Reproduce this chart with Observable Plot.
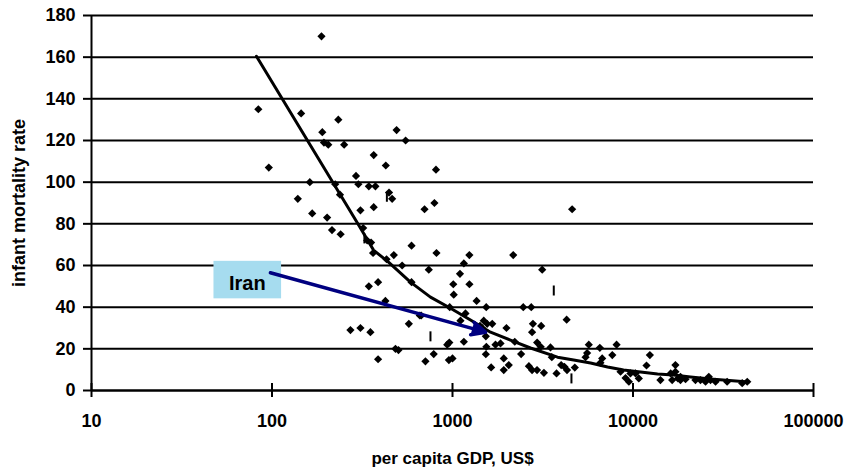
<!DOCTYPE html>
<html>
<head>
<meta charset="utf-8">
<script src="https://cdn.jsdelivr.net/npm/d3@7"></script>
<script src="https://cdn.jsdelivr.net/npm/@observablehq/plot@0.6"></script>
<style>
  body { margin: 0; background: #fff; }
</style>
</head>
<body>
<div id="chart"></div>
<script>
// Per capita GDP (US$) and infant mortality rate, one entry per country
const gdp = [
  188, 84, 145, 233, 190, 194, 205, 251, 490, 550,
  366, 427, 96, 810, 292, 162, 224, 301, 344, 374,
  445, 463, 238, 139, 309, 366, 700, 794, 4600, 167,
  202, 215, 240, 320, 337, 354, 363, 473, 431, 526,
  593, 815, 739, 593, 344, 387, 425, 659, 965, 1180,
  1010, 1100, 1156, 1240, 1016, 1241, 1360, 272, 309, 351,
  573, 935, 960, 1156, 483, 502, 387, 787, 708, 955,
  1000, 2170, 1107, 1538, 2466, 2731, 671, 1490, 1556, 1660,
  1420, 1460, 1990, 2790, 2760, 1530, 1540, 1730, 1845, 2213,
  1530, 2400, 1923, 2050, 1637, 1923, 2650, 2760, 2940, 2944,
  3140, 4290, 3100, 3080, 3490, 3550, 3210, 3770, 4000, 4170,
  4310, 4760, 5690, 5570, 5460, 6550, 6750, 6600, 8110, 7680,
  8530, 9090, 9490, 9680, 10330, 10770, 12400, 11880, 14190, 17180,
  17180, 16480, 18320, 19540, 16170, 17740, 18320, 22180, 23650, 25220,
  26300, 26880, 28660, 33220, 40270, 42950
];
const imr = [
  170, 135, 133, 130, 124, 119, 118, 118, 125, 120,
  113, 108, 107, 106, 103, 100, 99, 99, 98, 98,
  95, 92, 94, 92, 86.5, 88, 87, 90, 87, 85,
  83, 77, 75, 78, 72, 71, 66, 65, 63, 60,
  69.5, 66, 58, 52, 50, 52, 43, 36, 40, 37,
  51, 56, 61, 65, 46, 51, 43, 29, 30, 28,
  32, 22, 23, 23.4, 20, 19.4, 15, 17.5, 14, 14.6,
  15.4, 65, 33.5, 40, 40, 40, 36, 33.5, 32, 32,
  31, 30, 30, 32, 28, 26, 21, 22, 22.6, 23.4,
  17.4, 17.5, 15.4, 12.2, 11.1, 9.8, 11.7, 9.8, 9.8, 23,
  58, 34, 31, 21, 20.7, 16, 8.5, 8.2, 12.2, 11.4,
  9.8, 11, 22, 18, 16, 20.5, 15.4, 13.3, 22, 17,
  9, 6, 4.2, 8.2, 8.2, 5.8, 17, 12, 5, 12.2,
  9, 5, 5, 5.4, 8.2, 5.8, 6.6, 5, 5, 4.2,
  6.6, 5, 4.2, 4.2, 3.5, 4.2
];

// Entries drawn with a bar marker instead of a diamond
const barGdp = [433, 325, 755, 3640, 4560];
const barImr = [93, 73, 26, 48, 5.8];

// Fitted trend
const trendGdp = [82, 240, 298, 365, 442, 585, 755, 975, 1258, 1624, 2094, 2704, 3818, 4690, 5820, 7230, 8860, 11010, 13680, 16760, 20840, 26880, 43650];
const trendImr = [160.4, 93.7, 80.3, 67.4, 61.6, 52, 44.8, 39.5, 33.8, 28, 24.2, 20.4, 16, 14.6, 13.2, 11.3, 9.8, 8.9, 7.9, 7.4, 6.5, 5.5, 4.1];

// Iran callout
const calloutText = ["Iran"];
const calloutBoxGdp = [47.7, 113];
const calloutBoxImr = [44, 62];
const calloutTextAt = [73, 51.5];
const arrowFrom = [98, 56.5];
const arrowTo = [1525, 28];

// Axis ticks
const xTicks = [10, 100, 1000, 10000, 100000];
const yTicks = [0, 20, 40, 60, 80, 100, 120, 140, 160, 180];

const points = gdp.map((g, i) => ({gdp: g, imr: imr[i]}));
const barPoints = barGdp.map((g, i) => ({gdp: g, imr: barImr[i]}));
const trend = trendGdp.map((g, i) => ({gdp: g, imr: trendImr[i]}));

// Thin vertical bar marker
const barSymbol = {
  draw(context) {
    context.moveTo(-1, -5);
    context.lineTo(1, -5);
    context.lineTo(1, 5);
    context.lineTo(-1, 5);
    context.closePath();
  }
};

const chart = Plot.plot({
  width: 848,
  height: 471,
  marginLeft: 91,
  marginRight: 35,
  marginTop: 15,
  marginBottom: 81,
  style: {
    fontFamily: "'Liberation Sans', Arial, sans-serif",
    fontWeight: "bold",
    background: "#fff",
    color: "#000"
  },
  x: {type: "log", domain: [10, 100000]},
  y: {domain: [0, 180]},
  marks: [
    Plot.gridY(yTicks, {stroke: "#000", strokeOpacity: 1, strokeWidth: 2}),
    Plot.ruleX([10], {stroke: "#000", strokeWidth: 2}),
    Plot.ruleY([0], {stroke: "#000", strokeWidth: 2}),
    Plot.axisY(yTicks, {tickSize: 8, tickPadding: 8, strokeWidth: 2, fontSize: 18, tickFormat: (d) => String(d), label: null}),
    Plot.axisX(xTicks, {tickSize: 14, dy: -7, strokeWidth: 2, tickFormat: () => "", label: null}),
    Plot.axisX(xTicks, {tickSize: 0, tickPadding: 24, fontSize: 18, tickFormat: (d) => String(d), label: null}),
    Plot.rect([0], {
      x1: () => calloutBoxGdp[0], x2: () => calloutBoxGdp[1],
      y1: () => calloutBoxImr[0], y2: () => calloutBoxImr[1],
      fill: "#a6dcef"
    }),
    Plot.text(calloutText, {x: () => calloutTextAt[0], y: () => calloutTextAt[1], text: (d) => d, fontSize: 20, fill: "#000"}),
    Plot.dot(points, {x: "gdp", y: "imr", symbol: "diamond2", r: 3.7, fill: "#000", stroke: "none"}),
    Plot.dot(barPoints, {x: "gdp", y: "imr", symbol: barSymbol, fill: "#000", stroke: "none"}),
    Plot.line(trend, {x: "gdp", y: "imr", stroke: "#000", strokeWidth: 3}),
    Plot.arrow([0], {
      x1: () => arrowFrom[0], y1: () => arrowFrom[1],
      x2: () => arrowTo[0], y2: () => arrowTo[1],
      stroke: "#000080", fill: "#000080", strokeWidth: 3.5,
      headLength: 6.5, headAngle: 50
    }),
    Plot.text(["per capita GDP, US$"], {frameAnchor: "bottom", lineAnchor: "middle", dy: 68, fontSize: 17}),
    Plot.text(["infant mortality rate"], {frameAnchor: "left", textAnchor: "middle", lineAnchor: "middle", dx: -72, rotate: -90, fontSize: 18})
  ]
});

document.getElementById("chart").appendChild(chart);
</script>
</body>
</html>
